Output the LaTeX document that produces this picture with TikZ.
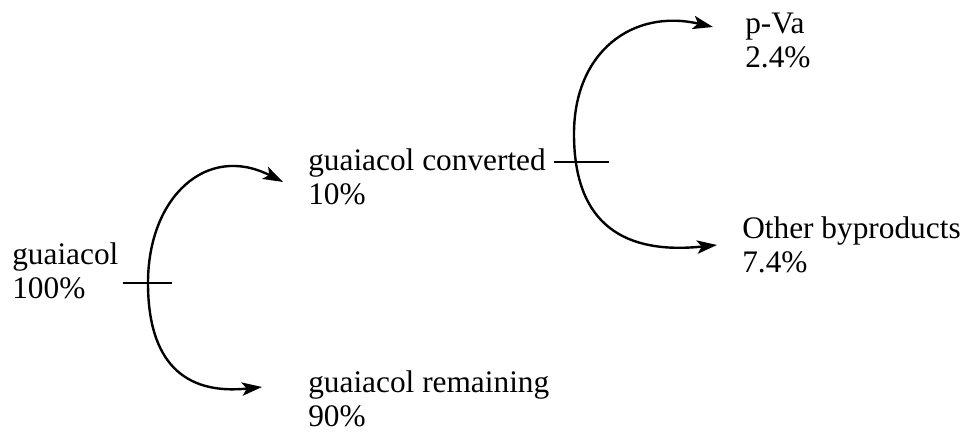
\documentclass[tikz,border=0pt]{standalone}
\usepackage{fontspec}
\setmainfont{Liberation Serif}
\usetikzlibrary{arrows.meta}

\begin{document}
\begin{tikzpicture}[x=0.75pt, y=0.75pt,
  lbl/.style={anchor=base west, align=left, inner sep=0pt, font=\fontsize{23.5pt}{25.5pt}\selectfont},
  arr/.style={line width=1.8pt, -{Stealth[length=15pt, width=10pt, inset=3.5pt]}, looseness=1.3},
  tick/.style={line width=1.8pt}]
 \useasboundingbox (0,0) rectangle (964,434);
 % labels (placed by the baseline of the lower line)
 \node[lbl] (src) at (12,135) {guaiacol\\100\%};
 \node[lbl] (conv) at (308,229) {guaiacol converted\\10\%};
 \node[lbl] (rem) at (308,7) {guaiacol remaining\\90\%};
 \node[lbl] (pva) at (745,366) {p-Va\\2.4\%};
 \node[lbl] (oth) at (742,161) {Other byproducts\\7.4\%};
 % split points and arrow ends
 \coordinate (split1) at (148,151);
 \coordinate (toconv) at (283,252);
 \coordinate (torem) at (262,47);
 \coordinate (split2) at (574,300);
 \coordinate (topva) at (713,407);
 \coordinate (tooth) at (717,189);
 % first split
 \draw[arr] (split1) to[out=90, in=153] (toconv);
 \draw[arr] (split1) to[out=-90, in=186] (torem);
 \draw[tick] ([xshift=-19]split1) -- ([xshift=18]split1);
 % second split
 \draw[arr, looseness=1.2] (split2) to[out=90, in=167] (topva);
 \draw[arr] (split2) to[out=-90, in=186] (tooth);
 \draw[tick] ([xshift=-15, yshift=-21]split2) -- ([xshift=26, yshift=-21]split2);
\end{tikzpicture}
\end{document}
